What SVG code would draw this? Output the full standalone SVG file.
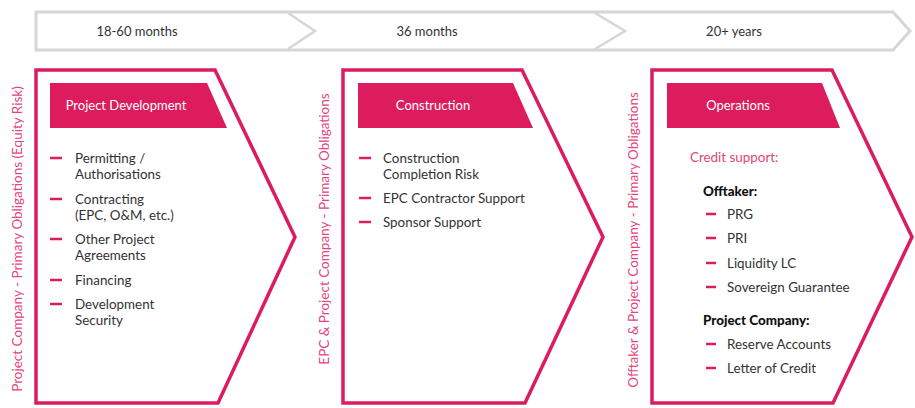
<svg xmlns="http://www.w3.org/2000/svg" width="915" height="408" viewBox="0 0 915 408">
<style>
.bg{fill:#ffffff}
.band{fill:#ffffff;stroke:#d6d6d6;stroke-width:3;stroke-linejoin:miter}
.chev{fill:none;stroke:#d6d6d6;stroke-width:2.5}
.band-t{font-family:Lato,"Open Sans","Liberation Sans",sans-serif;font-size:13px;fill:#333333;text-anchor:middle}
.box{fill:#ffffff;stroke:#dc1c5c;stroke-width:3.5;stroke-linejoin:miter}
.tab{fill:#dc1c5c}
.tab-t{font-family:Lato,"Open Sans","Liberation Sans",sans-serif;font-size:13px;fill:#ffffff;text-anchor:middle}
.side{font-family:Lato,"Open Sans","Liberation Sans",sans-serif;font-size:13.5px;fill:#e2457a;text-anchor:middle}
.item{font-family:Lato,"Open Sans","Liberation Sans",sans-serif;font-size:13.4px;fill:#333333}
.bold{font-family:Lato,"Open Sans","Liberation Sans",sans-serif;font-size:13.4px;font-weight:900;fill:#111111}
.pink{font-family:Lato,"Open Sans","Liberation Sans",sans-serif;font-size:13.4px;fill:#e2457a}
.dash{stroke:#dc1c5c;stroke-width:2.5}
</style>
<rect class="bg" x="0" y="0" width="915" height="408"/>
<g id="timeline">
<path class="band" d="M36,12 H893 L910,31 L893,50 H36 Z"/>
<path class="chev" d="M288,13 L315,31 L288,49"/>
<path class="chev" d="M595,13 L625,31 L595,49"/>
<text class="band-t" x="137" y="36">18-60 months</text>
<text class="band-t" x="427" y="36">36 months</text>
<text class="band-t" x="734" y="36">20+ years</text>
</g>
<g id="phase-development">
<path class="box" d="M36,70 H215 L295,237 L218,403 H36 Z"/>
<path class="tab" d="M50,83 H207 L227,128 H50 Z"/>
<text class="tab-t" x="126" y="110">Project Development</text>
<text class="side" transform="translate(22,239) rotate(-90)">Project Company - Primary Obligations (Equity Risk)</text>
<line class="dash" x1="50" y1="158" x2="62" y2="158"/>
<text class="item" x="75" y="163">Permitting /</text>
<text class="item" x="75" y="179">Authorisations</text>
<line class="dash" x1="50" y1="199" x2="62" y2="199"/>
<text class="item" x="75" y="204">Contracting</text>
<text class="item" x="75" y="220">(EPC, O&amp;M, etc.)</text>
<line class="dash" x1="50" y1="239" x2="62" y2="239"/>
<text class="item" x="75" y="244">Other Project</text>
<text class="item" x="75" y="260">Agreements</text>
<line class="dash" x1="50" y1="280" x2="62" y2="280"/>
<text class="item" x="75" y="285">Financing</text>
<line class="dash" x1="50" y1="304" x2="62" y2="304"/>
<text class="item" x="75" y="309">Development</text>
<text class="item" x="75" y="325">Security</text>
</g>
<g id="phase-construction">
<path class="box" d="M343,70 H522 L603,237 L525,403 H343 Z"/>
<path class="tab" d="M358,83 H513 L533,128 H358 Z"/>
<text class="tab-t" x="433" y="110">Construction</text>
<text class="side" transform="translate(329,229) rotate(-90)">EPC &amp; Project Company - Primary Obligations</text>
<line class="dash" x1="359" y1="158" x2="371" y2="158"/>
<text class="item" x="383" y="163">Construction</text>
<text class="item" x="383" y="179">Completion Risk</text>
<line class="dash" x1="359" y1="198" x2="371" y2="198"/>
<text class="item" x="383" y="203">EPC Contractor Support</text>
<line class="dash" x1="359" y1="222" x2="371" y2="222"/>
<text class="item" x="383" y="227">Sponsor Support</text>
</g>
<g id="phase-operations">
<path class="box" d="M652,70 H832 L912,237 L833,403 H652 Z"/>
<path class="tab" d="M667,83 H822 L840,128 H667 Z"/>
<text class="tab-t" x="738" y="110">Operations</text>
<text class="side" transform="translate(638,240) rotate(-90)">Offtaker &amp; Project Company - Primary Obligations</text>
<text class="pink" x="690" y="162">Credit support:</text>
<text class="bold" x="703" y="196">Offtaker:</text>
<line class="dash" x1="706" y1="214" x2="716" y2="214"/>
<text class="item" x="727" y="219">PRG</text>
<line class="dash" x1="706" y1="238" x2="716" y2="238"/>
<text class="item" x="727" y="243">PRI</text>
<line class="dash" x1="706" y1="263" x2="716" y2="263"/>
<text class="item" x="727" y="268">Liquidity LC</text>
<line class="dash" x1="706" y1="287" x2="716" y2="287"/>
<text class="item" x="727" y="292">Sovereign Guarantee</text>
<text class="bold" x="703" y="325">Project Company:</text>
<line class="dash" x1="706" y1="344" x2="716" y2="344"/>
<text class="item" x="727" y="349">Reserve Accounts</text>
<line class="dash" x1="706" y1="368" x2="716" y2="368"/>
<text class="item" x="727" y="373">Letter of Credit</text>
</g>
<g id="connectors"></g>
</svg>
